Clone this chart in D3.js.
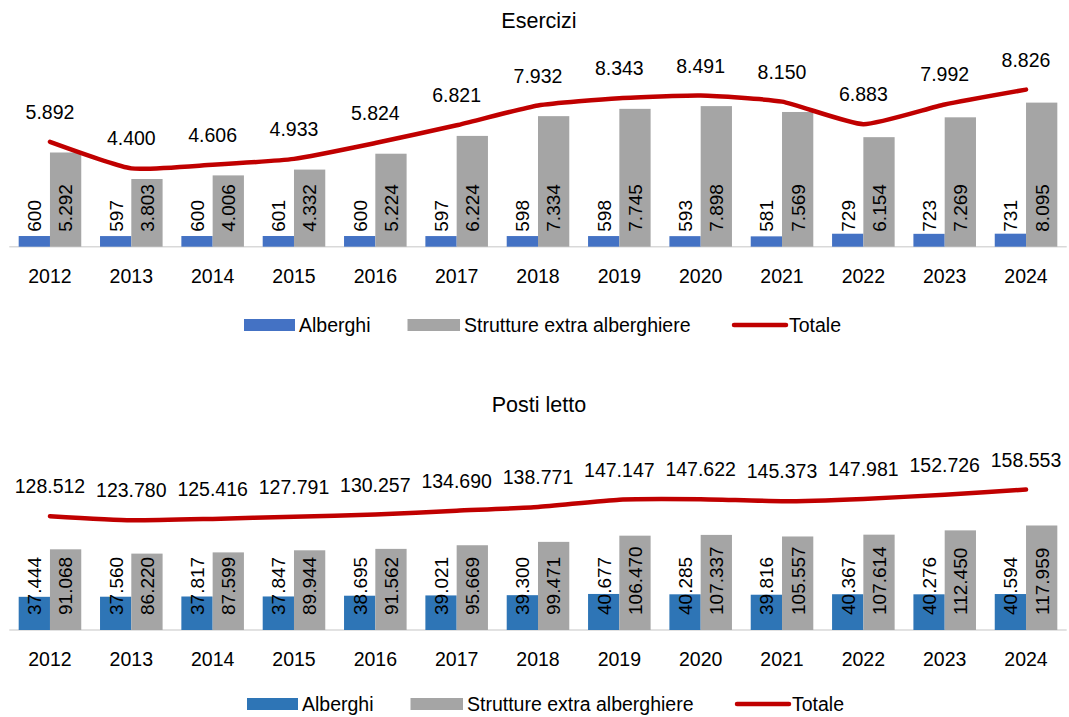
<!DOCTYPE html>
<html>
<head>
<meta charset="utf-8">
<script src="https://cdn.jsdelivr.net/npm/d3@7"></script>
<style>
	body { margin: 0; background: #fff; }
	svg { display: block; font-family: "Liberation Sans", Arial, sans-serif; }
</style>
</head>
<body>
<svg id="chart" width="1069" height="717"></svg>
<script>
var years = ["2012", "2013", "2014", "2015", "2016", "2017", "2018", "2019", "2020", "2021", "2022", "2023", "2024"];

var eserciziAlberghi = [600, 597, 600, 601, 600, 597, 598, 598, 593, 581, 729, 723, 731];
var eserciziExtra = [5292, 3803, 4006, 4332, 5224, 6224, 7334, 7745, 7898, 7569, 6154, 7269, 8095];
var eserciziTotale = [5892, 4400, 4606, 4933, 5824, 6821, 7932, 8343, 8491, 8150, 6883, 7992, 8826];

var postiAlberghi = [37444, 37560, 37817, 37847, 38695, 39021, 39300, 40677, 40285, 39816, 40367, 40276, 40594];
var postiExtra = [91068, 86220, 87599, 89944, 91562, 95669, 99471, 106470, 107337, 105557, 107614, 112450, 117959];
var postiTotale = [128512, 123780, 125416, 127791, 130257, 134690, 138771, 147147, 147622, 145373, 147981, 152726, 158553];

var seriesNames = ["Alberghi", "Strutture extra alberghiere", "Totale"];

var fmt = d3.formatLocale({ decimal: ",", thousands: ".", grouping: [3], currency: ["€", ""] }).format(",d");

var svg = d3.select("#chart");

// category positions shared by both panels
var x = d3.scaleBand().domain(years).range([9.3, 1066.7]).padding(0);
var xInner = d3.scaleBand().domain(["a", "b"]).range([0, x.bandwidth()]).paddingInner(0).paddingOuter(0.3);

function drawPanel(cfg) {
	var g = svg.append("g");
	var y = d3.scaleLinear().domain([0, cfg.max]).range([cfg.base, cfg.top]);

	g.append("text")
		.attr("x", 539).attr("y", cfg.titleY)
		.attr("text-anchor", "middle")
		.style("font-size", "21.5px")
		.attr("fill", "#000")
		.text(cfg.title);

	// axis baseline
	g.append("line")
		.attr("x1", x.range()[0]).attr("x2", x.range()[1])
		.attr("y1", cfg.base).attr("y2", cfg.base)
		.attr("stroke", "#d9d9d9").attr("stroke-width", 1.5);

	var bars = [
		{ key: "a", values: cfg.alberghi, color: cfg.blue },
		{ key: "b", values: cfg.extra, color: "#a5a5a5" }
	];

	bars.forEach(function(s) {
		var grp = g.append("g");
		grp.selectAll("rect")
			.data(s.values)
			.enter().append("rect")
			.attr("x", function(d, i) { return x(years[i]) + xInner(s.key); })
			.attr("y", function(d) { return y(d); })
			.attr("width", xInner.bandwidth())
			.attr("height", function(d) { return cfg.base - y(d); })
			.attr("fill", s.color);

		grp.selectAll("text")
			.data(s.values)
			.enter().append("text")
			.attr("transform", function(d, i) {
				var cx = x(years[i]) + xInner(s.key) + xInner.bandwidth() / 2;
				return "translate(" + cx + "," + (cfg.base - 15) + ") rotate(-90)";
			})
			.attr("dy", "0.36em")
			.style("font-size", "19px")
			.attr("fill", "#000")
			.text(function(d) { return fmt(d); });
	});

	var line = d3.line()
		.x(function(d, i) { return x(years[i]) + x.bandwidth() / 2; })
		.y(function(d) { return y(d); })
		.curve(d3.curveCardinal.tension(0.5));

	g.append("path")
		.datum(cfg.totale)
		.attr("d", line)
		.attr("fill", "none")
		.attr("stroke", "#c00000")
		.attr("stroke-width", 4.5)
		.attr("stroke-linecap", "round")
		.attr("stroke-linejoin", "round");

	g.append("g").selectAll("text")
		.data(cfg.totale)
		.enter().append("text")
		.attr("x", function(d, i) { return x(years[i]) + x.bandwidth() / 2; })
		.attr("y", function(d) { return y(d) - 23; })
		.attr("text-anchor", "middle")
		.style("font-size", "19.5px")
		.attr("fill", "#000")
		.text(function(d) { return fmt(d); });

	// year labels
	g.append("g").selectAll("text")
		.data(years)
		.enter().append("text")
		.attr("x", function(d) { return x(d) + x.bandwidth() / 2; })
		.attr("y", cfg.base + 36)
		.attr("text-anchor", "middle")
		.style("font-size", "19.5px")
		.attr("fill", "#000")
		.text(function(d) { return d; });

	// legend
	var lg = g.append("g").attr("transform", "translate(" + cfg.legendDx + "," + cfg.legendY + ")");
	lg.append("rect").attr("x", 244).attr("y", -6).attr("width", 51).attr("height", 12).attr("fill", cfg.blue);
	lg.append("rect").attr("x", 407.5).attr("y", -6).attr("width", 52.5).attr("height", 12).attr("fill", "#a5a5a5");
	lg.append("line").attr("x1", 734).attr("x2", 786).attr("y1", 0).attr("y2", 0)
		.attr("stroke", "#c00000").attr("stroke-width", 4.5).attr("stroke-linecap", "round");
	[[299, seriesNames[0]], [464, seriesNames[1]], [789, seriesNames[2]]].forEach(function(l) {
		lg.append("text")
			.attr("x", l[0]).attr("y", 0)
			.attr("dy", "0.36em")
			.style("font-size", "19.5px")
			.attr("fill", "#000")
			.text(l[1]);
	});
}

drawPanel({
	title: "Esercizi", titleY: 28,
	alberghi: eserciziAlberghi, extra: eserciziExtra, totale: eserciziTotale,
	max: 12000, base: 246.7, top: 33.1,
	blue: "#4472c4",
	legendY: 325, legendDx: 0
});

drawPanel({
	title: "Posti letto", titleY: 412,
	alberghi: postiAlberghi, extra: postiExtra, totale: postiTotale,
	max: 200000, base: 630, top: 452.8,
	blue: "#2e75b6",
	legendY: 704, legendDx: 3
});
</script>
</body>
</html>
